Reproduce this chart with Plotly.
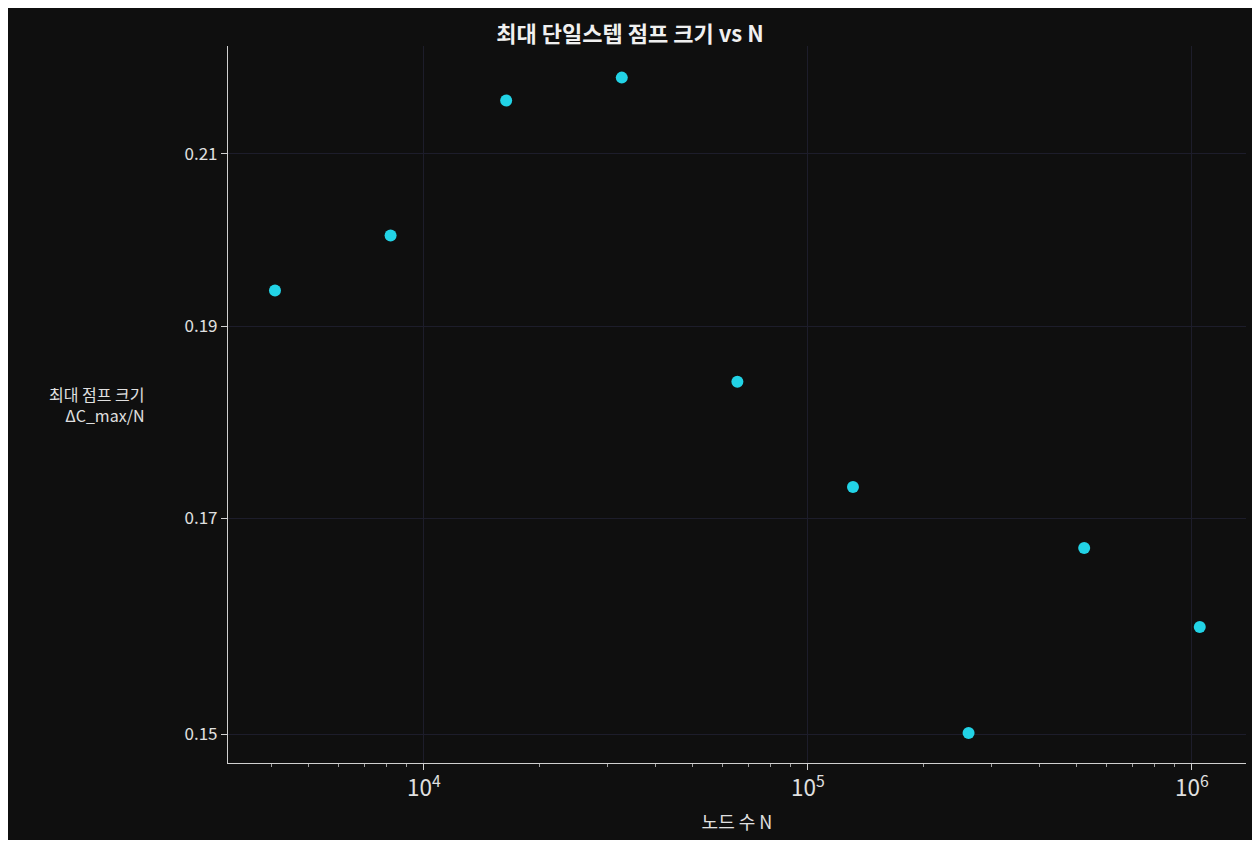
import plotly.graph_objects as go

n_nodes = [4096, 8192, 16384, 32768, 65536, 131072, 262144, 524288, 1048576]
max_jump = [0.1940, 0.2003, 0.2166, 0.2195, 0.1840, 0.1731, 0.1501, 0.1671, 0.1596]
y_ticks = [0.15, 0.17, 0.19, 0.21]

font = "Noto Sans CJK KR"
fig = go.Figure(go.Scatter(
    x=n_nodes, y=max_jump, mode="markers",
    marker=dict(color="#22d3e6", size=12, line=dict(width=0)),
))

fig.update_layout(
    width=1244, height=832,
    paper_bgcolor="#0f0f0f", plot_bgcolor="#0f0f0f",
    font=dict(family=font, color="#e0e0e0", size=16),
    margin=dict(l=220, r=6, t=38, b=77),
    showlegend=False,
    title=dict(text="<b>최대 단일스텝 점프 크기 vs N</b>", x=0.5, xanchor="center",
               y=0.978, font=dict(size=22, color="#f0f0f0")),
    annotations=[dict(text="최대 점프 크기<br>ΔC_max/N", xref="paper", yref="paper",
                      x=-0.08, y=0.5, xanchor="right", yanchor="middle", align="right",
                      showarrow=False, font=dict(size=16, color="#e0e0e0"))],
)
fig.update_xaxes(
    type="log", range=[3.49, 6.141], dtick=1, exponentformat="power",
    showgrid=True, gridcolor="#1d1d2b", zeroline=False,
    showline=True, linecolor="#d0d0d0", linewidth=1.2,
    ticks="outside", ticklen=6, tickcolor="#d0d0d0",
    minor=dict(ticks="outside", ticklen=3, tickcolor="#a0a0a0", showgrid=False),
    title=dict(text="노드 수 N", font=dict(size=18)),
    tickfont=dict(size=18),
)
fig.update_yaxes(
    type="log", range=[-0.8312, -0.6506], tickvals=y_ticks,
    ticktext=[f"{v:.2f}" for v in y_ticks],
    showgrid=True, gridcolor="#1d1d2b", zeroline=False,
    showline=True, linecolor="#d0d0d0", linewidth=1.2,
    ticks="outside", ticklen=6, tickcolor="#d0d0d0",
    tickfont=dict(size=17),
)

fig.write_html("out.html")
